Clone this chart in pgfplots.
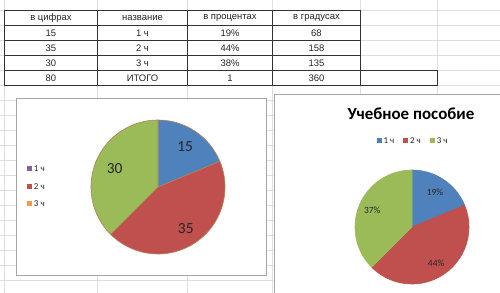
\documentclass[border=0pt]{standalone}
\usepackage{pgfplots}
\usepackage{pgfplotstable}
\pgfplotsset{compat=1.18}
\usepackage{fontspec}
\setmainfont{Liberation Sans}
\newfontfamily\calibri{Carlito}
\definecolor{pblue}{HTML}{4F81BD}
\definecolor{pred}{HTML}{C0504D}
\definecolor{pgreen}{HTML}{9BBB59}
\definecolor{lpurple}{HTML}{8064A2}
\definecolor{lorange}{HTML}{F79646}
\definecolor{sheetgrid}{HTML}{DCDEE0}
\definecolor{cborder}{HTML}{A6A6A6}
\definecolor{pieedge}{HTML}{B08458}
\definecolor{txt}{HTML}{262626}

\pgfplotstableread{
value pct
15 19
35 44
30 37
}\piedata

\newcommand\slice[7]{% cx cy r start end fill draw
  \filldraw[fill=#6, draw=#7, line width=0.6bp, line join=round] (axis cs:#1,#2) -- ++(#4:#3 bp) arc[start angle=#4, end angle=#5, radius=#3 bp] -- cycle;}

\begin{document}
\begin{tikzpicture}
\pgfplotstablegetelem{0}{value}\of\piedata \let\vA\pgfplotsretval
\pgfplotstablegetelem{1}{value}\of\piedata \let\vB\pgfplotsretval
\pgfplotstablegetelem{2}{value}\of\piedata \let\vC\pgfplotsretval
\pgfplotstablegetelem{0}{pct}\of\piedata \let\pA\pgfplotsretval
\pgfplotstablegetelem{1}{pct}\of\piedata \let\pB\pgfplotsretval
\pgfplotstablegetelem{2}{pct}\of\piedata \let\pC\pgfplotsretval
\pgfmathsetmacro\tot{\vA+\vB+\vC}
\pgfmathsetmacro\aO{90}
\pgfmathsetmacro\aA{90-360*\vA/\tot}
\pgfmathsetmacro\aB{\aA-360*\vB/\tot}
\pgfmathsetmacro\aC{\aB-360*\vC/\tot}
\pgfmathsetmacro\mA{(\aO+\aA)/2}
\pgfmathsetmacro\mB{(\aA+\aB)/2}
\pgfmathsetmacro\mC{(\aB+\aC)/2}
\begin{axis}[hide axis, scale only axis, width=500bp, height=293bp,
  xmin=0, xmax=500, ymin=0, ymax=293, y dir=reverse, clip=false,
  at={(0,0)}, anchor=south west]
% sheet background
\fill[white] (axis cs:0,0) rectangle (axis cs:500,293);
% sheet gridlines
\pgfplotsinvokeforeach{4.3,97.3,187.7,272.7,360.7,437.7}{
  \draw[sheetgrid, line width=0.6bp] (axis cs:#1,0) -- (axis cs:#1,293);}
\pgfplotsinvokeforeach{10,25.7,40.3,55.5,70.7,85.5,100.5,115.5,130.5,145.5,160.5,175.5,190.5,205.5,220.5,235.5,250.5,265.5,280.5}{
  \draw[sheetgrid, line width=0.6bp] (axis cs:0,#1) -- (axis cs:500,#1);}
% table lines
\draw[black!80, line width=0.8bp] (axis cs:4.3,10) rectangle (axis cs:360.7,70.7);
\pgfplotsinvokeforeach{25.7,40.3,55.5}{
  \draw[black!80, line width=0.7bp] (axis cs:4.3,#1) -- (axis cs:360.7,#1);}
\draw[black!80, line width=0.8bp] (axis cs:4.3,70.7) rectangle (axis cs:437.7,85.5);
\pgfplotsinvokeforeach{97.3,187.7,272.7}{
  \draw[black!80, line width=0.7bp] (axis cs:#1,10) -- (axis cs:#1,85.5);}
\draw[black!80, line width=0.7bp] (axis cs:360.7,70.7) -- (axis cs:360.7,85.5);
% table text
\tikzset{tc/.style={font=\fontsize{9.5}{10}\selectfont, text=txt, anchor=center}}
\node[tc] at (axis cs:51,18) {в цифрах};
\node[tc] at (axis cs:142.5,18) {название};
\node[tc] at (axis cs:230,18) {в процентах};
\node[tc] at (axis cs:316.5,18) {в градусах};
\node[tc] at (axis cs:51,33) {15};
\node[tc] at (axis cs:142.5,33) {1 ч};
\node[tc] at (axis cs:230,33) {19\%};
\node[tc] at (axis cs:316.5,33) {68};
\node[tc] at (axis cs:51,48) {35};
\node[tc] at (axis cs:142.5,48) {2 ч};
\node[tc] at (axis cs:230,48) {44\%};
\node[tc] at (axis cs:316.5,48) {158};
\node[tc] at (axis cs:51,63) {30};
\node[tc] at (axis cs:142.5,63) {3 ч};
\node[tc] at (axis cs:230,63) {38\%};
\node[tc] at (axis cs:316.5,63) {135};
\node[tc] at (axis cs:51,78) {80};
\node[tc] at (axis cs:142.5,78) {ИТОГО};
\node[tc] at (axis cs:230,78) {1};
\node[tc] at (axis cs:316.5,78) {360};
% chart 1
\filldraw[fill=white, draw=cborder, line width=0.8bp] (axis cs:16.7,98.3) rectangle (axis cs:266.7,275);
\slice{158}{187}{67}{\aO}{\aA}{pblue}{pieedge}
\slice{158}{187}{67}{\aA}{\aB}{pred}{pieedge}
\slice{158}{187}{67}{\aB}{\aC}{pgreen}{pieedge}
\tikzset{pl/.style={font=\calibri\fontsize{15.5}{16}\selectfont, text=txt, anchor=center}}
\node[pl] at (axis cs:158,187) [shift={(\mA:49bp)}] {\vA};
\node[pl] at (axis cs:158,187) [shift={(\mB:50bp)}] {\vB};
\node[pl] at (axis cs:159,187) [shift={(\mC:48bp)}] {\vC};
% legend 1
\tikzset{lg/.style={font=\calibri\fontsize{9}{9}\selectfont, text=txt, anchor=west, inner sep=0pt}}
\fill[lpurple] (axis cs:27.3,165.5) rectangle (axis cs:32,170.5);
\node[lg] at (axis cs:33.8,168.2) {1 ч};
\fill[pred] (axis cs:27.3,183.5) rectangle (axis cs:32,188.5);
\node[lg] at (axis cs:33.8,186.2) {2 ч};
\fill[lorange] (axis cs:27.3,201) rectangle (axis cs:32,206);
\node[lg] at (axis cs:33.8,203.7) {3 ч};
% chart 2
\fill[white] (axis cs:274.7,94) rectangle (axis cs:500,293);
\draw[cborder, line width=0.8bp] (axis cs:274.7,293) -- (axis cs:274.7,94) -- (axis cs:500,94);
\node[font=\calibri\bfseries\fontsize{17}{18}\selectfont, text=black, anchor=center] at (axis cs:411,114) {Учебное пособие};
\fill[pblue] (axis cs:376.7,137.5) rectangle (axis cs:381.7,142.5);
\node[lg] at (axis cs:383.3,140.2) {1 ч};
\fill[pred] (axis cs:403.3,137.5) rectangle (axis cs:408.3,142.5);
\node[lg] at (axis cs:409.9,140.2) {2 ч};
\fill[pgreen] (axis cs:430,137.5) rectangle (axis cs:435,142.5);
\node[lg] at (axis cs:436.6,140.2) {3 ч};
\slice{412}{227}{57}{\aO}{\aA}{pblue}{pblue}
\slice{412}{227}{57}{\aA}{\aB}{pred}{pred}
\slice{412}{227}{57}{\aB}{\aC}{pgreen}{pgreen}
\tikzset{pp/.style={font=\calibri\fontsize{9.5}{10}\selectfont, text=txt, anchor=center}}
\node[pp] at (axis cs:412,227) [shift={(\mA:41.5bp)}] {\pA\%};
\node[pp] at (axis cs:412,227) [shift={(\mB:43.5bp)}] {\pB\%};
\node[pp] at (axis cs:412,227) [shift={(\mC:43bp)}] {\pC\%};
\end{axis}
\pgfresetboundingbox
\useasboundingbox (0,0) rectangle (500bp,293bp);
\end{tikzpicture}
\end{document}
